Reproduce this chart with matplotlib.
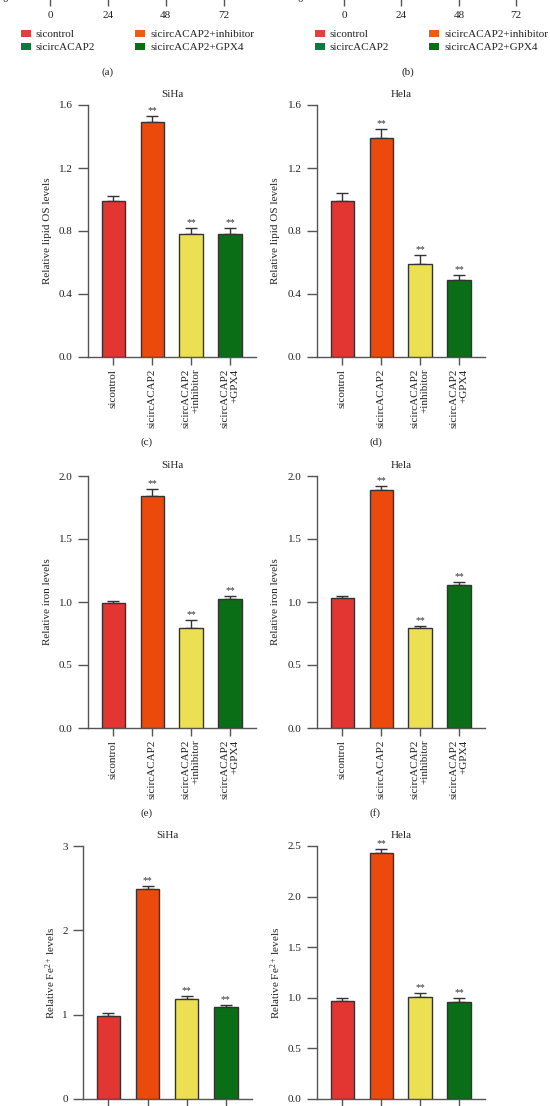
import numpy as np
import matplotlib
matplotlib.use("Agg")
import matplotlib.pyplot as plt
from matplotlib.patches import Patch

plt.rcParams['font.family'] = ['Liberation Serif', 'DejaVu Serif']
plt.rcParams['mathtext.fontset'] = 'custom'
plt.rcParams['mathtext.rm'] = 'Liberation Serif'
plt.rcParams['mathtext.it'] = 'Liberation Serif:italic'
plt.rcParams['mathtext.bf'] = 'Liberation Serif:bold'

# ---------------- data ----------------
groups = ["sicontrol", "sicircACAP2", "sicircACAP2\n+inhibitor", "sicircACAP2\n+GPX4"]
legend_labels = ["sicontrol", "sicircACAP2", "sicircACAP2+inhibitor", "sicircACAP2+GPX4"]
legend_colors = ["#e2403c", "#0c7a3e", "#f05a18", "#0a6e16"]
bar_colors = ["#e33532", "#ec4a0c", "#ece052", "#0a6e16"]
sig = ["", "**", "**", "**"]

time_ticks = [0, 24, 48, 72]

lipid_siha = [0.99, 1.49, 0.78, 0.78]
lipid_siha_err = [0.03, 0.04, 0.04, 0.04]
lipid_hela = [0.99, 1.39, 0.59, 0.49]
lipid_hela_err = [0.05, 0.06, 0.06, 0.03]

iron_siha = [0.99, 1.84, 0.79, 1.02]
iron_siha_err = [0.02, 0.055, 0.065, 0.03]
iron_hela = [1.03, 1.89, 0.79, 1.135]
iron_hela_err = [0.02, 0.03, 0.02, 0.025]

fe_siha = [0.99, 2.49, 1.19, 1.09]
fe_siha_err = [0.03, 0.04, 0.03, 0.03]
fe_hela = [0.97, 2.43, 1.01, 0.955]
fe_hela_err = [0.03, 0.04, 0.035, 0.045]

lipid_ticks = [0.0, 0.4, 0.8, 1.2, 1.6]
iron_ticks = [0.0, 0.5, 1.0, 1.5, 2.0]
fe_siha_ticks = [0, 1, 2, 3]
fe_hela_ticks = [0.0, 0.5, 1.0, 1.5, 2.0, 2.5]

# ---------------- layout helpers ----------------
W, H = 550, 1106
fig = plt.figure(figsize=(W / 100, H / 100), dpi=100)

def rect(l, r, t, b):
    return [l / W, 1 - b / H, (r - l) / W, (b - t) / H]

SPINE = "#555555"
EDGE = "#333333"
FS = 8

def style_axes(ax):
    for s in ["top", "right"]:
        ax.spines[s].set_visible(False)
    for s in ["left", "bottom"]:
        ax.spines[s].set_color(SPINE)
        ax.spines[s].set_linewidth(1.0)

def bar_panel(pos, vals, errs, ticks, ticklabels, title, ylabel, label_dx):
    ax = fig.add_axes(rect(*pos))
    style_axes(ax)
    x = np.arange(len(vals))
    ax.errorbar(x, vals, yerr=[np.zeros(len(vals)), errs], fmt='none',
                ecolor=EDGE, elinewidth=1.0, capsize=4, capthick=1.0, zorder=2)
    ax.bar(x, vals, width=0.6, color=bar_colors, edgecolor=EDGE,
           linewidth=1.0, zorder=3)
    for xi, v, e, s in zip(x, vals, errs, sig):
        if s:
            ax.annotate(s, (xi, v + e), xytext=(0, 0.5), textcoords='offset points',
                        ha='center', va='bottom', fontsize=7, color='#333333')
    ax.set_xlim(-0.65, 3.67)
    ax.set_ylim(ticks[0], ticks[-1])
    ax.set_yticks(ticks)
    ax.set_yticklabels(ticklabels)
    ax.set_xticks(x)
    ax.set_xticklabels(groups, rotation=90, ha='center', va='top',
                       multialignment='right')
    ax.tick_params(axis='y', length=7, width=1.0, color=SPINE, pad=4,
                   labelsize=FS, labelcolor='#222222')
    ax.tick_params(axis='x', length=5.5, width=1.0, color=SPINE, pad=3,
                   labelsize=FS, labelcolor='#222222')
    ax.set_title(title, fontsize=FS, pad=6, color='#222222')
    ax.set_ylabel(ylabel, fontsize=FS, color='#222222', va='center')
    ax.yaxis.set_label_coords(label_dx, 0.5)
    return ax

# ---------------- top panels (a), (b): only the bottom strip is visible ----------------
for (l, r, xl, xr) in [(23, 250, -11.3, 83.0), (318, 545, -10.9, 84.0)]:
    ax = fig.add_axes(rect(l, r, -200, -2))
    style_axes(ax)
    ax.set_xlim(xl, xr)
    ax.set_ylim(0, 1)
    ax.set_xticks(time_ticks)
    ax.set_yticks([0])
    ax.set_yticklabels(["0"])
    ax.tick_params(axis='x', length=5.5, width=1.0, color=SPINE, pad=3.5,
                   labelsize=FS, labelcolor='#222222')
    ax.tick_params(axis='y', length=7, width=1.0, color=SPINE, pad=4,
                   labelsize=FS, labelcolor='#222222')

for x0 in [21, 315]:
    handles = [Patch(facecolor=c, edgecolor='none', label=lab)
               for c, lab in zip(legend_colors, legend_labels)]
    fig.legend(handles=handles, loc='upper left',
               bbox_to_anchor=(x0 / W, 1 - 30 / H), ncol=2, frameon=False,
               fontsize=FS, handlelength=0.9, handleheight=0.55,
               handletextpad=0.45, columnspacing=3.6, labelspacing=0.35,
               borderpad=0, borderaxespad=0, labelcolor='#222222')

fig.text(108 / W, 1 - 72 / H, "(a)", ha='center', va='center', fontsize=FS, color='#222222')
fig.text(408 / W, 1 - 72 / H, "(b)", ha='center', va='center', fontsize=FS, color='#222222')

# ---------------- lipid OS ----------------
fmt1 = lambda t: ["%.1f" % v for v in t]
bar_panel((88, 256, 105, 357), lipid_siha, lipid_siha_err, lipid_ticks, fmt1(lipid_ticks),
          "SiHa", "Relative lipid OS levels", -41 / 168)
bar_panel((317, 485, 105, 357), lipid_hela, lipid_hela_err, lipid_ticks, fmt1(lipid_ticks),
          "Hela", "Relative lipid OS levels", -41 / 168)
fig.text(147 / W, 1 - 442 / H, "(c)", ha='center', va='center', fontsize=FS, color='#222222')
fig.text(376 / W, 1 - 442 / H, "(d)", ha='center', va='center', fontsize=FS, color='#222222')

# ---------------- iron ----------------
bar_panel((88, 256, 476, 728), iron_siha, iron_siha_err, iron_ticks, fmt1(iron_ticks),
          "SiHa", "Relative iron levels", -41 / 168)
bar_panel((317, 485, 476, 728), iron_hela, iron_hela_err, iron_ticks, fmt1(iron_ticks),
          "Hela", "Relative iron levels", -41 / 168)
fig.text(147 / W, 1 - 813 / H, "(e)", ha='center', va='center', fontsize=FS, color='#222222')
fig.text(375 / W, 1 - 813 / H, "(f)", ha='center', va='center', fontsize=FS, color='#222222')

# ---------------- Fe2+ ----------------
bar_panel((83, 252, 846, 1099), fe_siha, fe_siha_err, fe_siha_ticks,
          [str(v) for v in fe_siha_ticks], "SiHa", "Relative Fe$^{2+}$ levels", -32 / 169)
bar_panel((317, 485, 846, 1099), fe_hela, fe_hela_err, fe_hela_ticks, fmt1(fe_hela_ticks),
          "Hela", "Relative Fe$^{2+}$ levels", -41 / 168)

fig.savefig("out.png", dpi=100)
